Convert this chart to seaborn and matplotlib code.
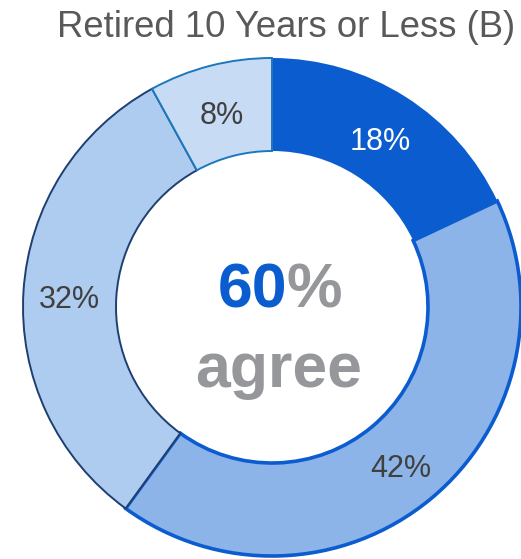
import matplotlib
matplotlib.use("Agg")
import matplotlib.pyplot as plt
import seaborn as sns

# Survey response shares, clockwise from 12 o'clock
shares = [18, 42, 32, 8]
labels = ["18%", "42%", "32%", "8%"]
agree_total = "60"
title = "Retired 10 Years or Less (B)"

face_colors = ["#0B5CCF", "#8DB4E8", "#AECBF0", "#C7DCF4"]
edge_colors = ["#0B5CCF", "#0B5CCF", "#1F3F70", "#1C78BE"]
edge_widths = [0.0, 2.6, 1.4, 1.4]
label_colors = ["white", "#404040", "#404040", "#404040"]

sns.set_theme(style="white")
plt.rcParams["font.family"] = ["Liberation Sans", "DejaVu Sans"]

W, H = 521, 559
fig = plt.figure(figsize=(W / 100, H / 100), dpi=100)
cx, cy, R = 272, 307, 249
ax = fig.add_axes([(cx - R) / W, (H - cy - R) / H, 2 * R / W, 2 * R / H])

ring = 1 - 156 / 249
wedges, texts = ax.pie(
    shares,
    labels=labels,
    colors=sns.color_palette(face_colors),
    startangle=90,
    counterclock=False,
    radius=1.0,
    labeldistance=1 - ring / 2,
    wedgeprops=dict(width=ring),
    textprops=dict(fontsize=22, ha="center", va="center"),
)
ax.set_xlim(-1, 1)
ax.set_ylim(-1, 1)
ax.set_aspect("equal")
ax.axis("off")

for w, ec, lw in zip(wedges, edge_colors, edge_widths):
    w.set_edgecolor(ec)
    w.set_linewidth(lw)
    w.set_clip_on(False)
for t, c in zip(texts, label_colors):
    t.set_color(c)
    t.set_ha("center")
    t.set_va("center")
    x, y = t.get_position()
    t.set_position((x, y - 0.022))

# centre callout
gray = "#96979B"
ax.text(0.06, 0.0, agree_total, color="#0B5CCF", fontsize=45,
        fontweight="bold", ha="right", va="baseline")
ax.text(0.06, 0.0, "%", color=gray, fontsize=45,
        fontweight="bold", ha="left", va="baseline")
ax.text(0.026, -0.321, "agree", color=gray, fontsize=45,
        fontweight="bold", ha="center", va="baseline")

fig.text(286.5 / W, 1 - 37 / H, title, color="#595959", fontsize=26.3,
         ha="center", va="baseline")

fig.savefig("out.png", dpi=100)
